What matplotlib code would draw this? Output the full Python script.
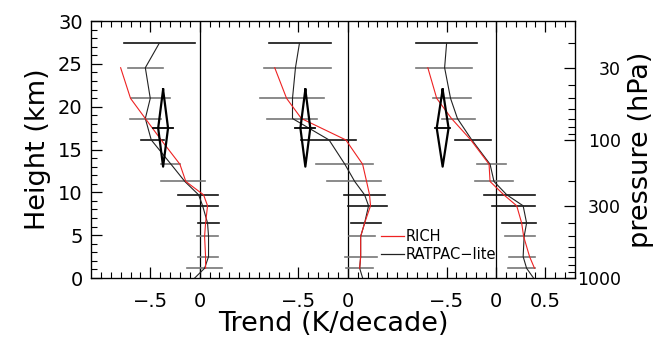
import matplotlib
matplotlib.use("Agg")
import matplotlib.pyplot as plt
import numpy as np
from matplotlib.lines import Line2D

plt.rcParams["font.family"] = ["DejaVu Sans"]

# pressure levels (hPa), bottom -> top
PRESSURE = [1000, 850, 700, 500, 400, 300, 250, 200, 150, 100, 70, 50, 30, 20]
SCALE_HEIGHT = 7.0
PANEL_OFFSETS = [0.0, 1.5, 3.0]

# RATPAC-lite trend profiles (K/decade), 1000 -> 20 hPa
RATPAC = [
    [-0.05, 0.05, 0.09, 0.09, 0.08, 0.03, -0.01, -0.15, -0.29, -0.49, -0.55, -0.50, -0.55, -0.41],
    [0.15, 0.12, 0.13, 0.13, 0.17, 0.21, 0.17, 0.07, -0.03, -0.19, -0.56, -0.56, -0.53, -0.49],
    [0.38, 0.31, 0.275, 0.285, 0.31, 0.275, 0.11, -0.02, -0.06, -0.245, -0.39, -0.46, -0.52, -0.50],
]
# RICH trend profiles, 850 -> 30 hPa (nan where missing)
RICH = [
    [np.nan, 0.06, 0.06, 0.05, 0.06, 0.08, 0.04, -0.14, -0.20, -0.39, -0.55, -0.70, -0.80, np.nan],
    [np.nan, 0.12, 0.13, 0.13, 0.17, 0.23, 0.22, 0.19, 0.15, -0.02, -0.47, -0.62, -0.74, np.nan],
    [np.nan, 0.39, 0.34, 0.28, 0.26, 0.21, 0.08, -0.06, -0.07, -0.255, -0.45, -0.60, -0.69, np.nan],
]
# uncertainty ranges, 850 -> 20 hPa
ERR_LO = [
    [-0.13, -0.02, -0.03, -0.02, -0.13, -0.22, -0.39, -0.39, -0.59, -0.71, -0.70, -0.73, -0.77],
    [-0.02, -0.03, 0.01, 0.03, 0.00, -0.04, -0.21, -0.32, -0.47, -0.82, -0.89, -0.85, -0.80],
    [0.12, 0.13, 0.09, 0.06, -0.04, -0.12, -0.21, -0.19, -0.41, -0.55, -0.64, -0.81, -0.81],
]
ERR_HI = [
    [0.23, 0.19, 0.19, 0.20, 0.19, 0.19, 0.05, -0.20, -0.36, -0.39, -0.30, -0.37, -0.05],
    [0.25, 0.30, 0.28, 0.34, 0.40, 0.38, 0.34, 0.26, 0.08, -0.31, -0.24, -0.17, -0.17],
    [0.40, 0.40, 0.40, 0.41, 0.40, 0.40, 0.17, 0.10, -0.05, -0.21, -0.25, -0.24, -0.19],
]
ERR_DARK = [False, False, False, True, True, True, False, False, True, False, False, False, True]

# diamond glyph: centre trend, half width, crossbar half width
DIAMOND_X = [-0.37, -0.43, -0.54]
DIAMOND_HW = [0.05, 0.05, 0.06]
DIAMOND_BAR = [0.10, 0.10, 0.075]
DIAMOND_Z = (13.0, 17.5, 22.0)

XTICK_POS = [-0.5, 0.0, 1.0, 1.5, 2.5, 3.0, 3.5]
XTICK_LAB = ["\u2212.5", "0", "\u2212.5", "0", "\u2212.5", "0", "0.5"]
P_MAJOR = [30, 100, 300, 1000]
P_MINOR = [20, 40, 50, 60, 70, 80, 90, 200, 400, 500, 600, 700, 800, 900]


def height(p):
    return SCALE_HEIGHT * np.log(1000.0 / np.asarray(p, dtype=float))


z = height(PRESSURE)

fig = plt.figure(figsize=(6.54, 3.45), dpi=100)
ax = fig.add_axes([91 / 654, 1 - 278 / 345, 484 / 654, 257 / 345])

for k, off in enumerate(PANEL_OFFSETS):
    ax.axvline(off, color="black", lw=0.9, zorder=1)
    for lo, hi, zz, dark in zip(ERR_LO[k], ERR_HI[k], z[1:], ERR_DARK):
        ax.plot([lo + off, hi + off], [zz, zz], color="#111111" if dark else "#777777",
                lw=1.2, zorder=2)
    ax.plot(np.array(RATPAC[k]) + off, z, color="#222222", lw=0.8, zorder=3)
    ax.plot(np.array(RICH[k]) + off, z, color="#ee2222", lw=0.8, zorder=4)
    cx, hw, bar = DIAMOND_X[k] + off, DIAMOND_HW[k], DIAMOND_BAR[k]
    z0, zc, z1 = DIAMOND_Z
    ax.plot([cx, cx + hw, cx, cx - hw, cx], [z1, zc, z0, zc, z1], color="black", lw=1.6, zorder=5)
    ax.plot([cx - bar, cx + bar], [zc, zc], color="black", lw=1.3, zorder=5)

ax.set_xlim(-1.1, 3.8)
ax.set_ylim(0, 30)
ax.set_xticks(XTICK_POS)
ax.set_xticklabels(XTICK_LAB, fontsize=14)
ax.set_xticks(np.round(np.arange(-1.0, 3.81, 0.1), 2), minor=True)
ax.set_yticks(np.arange(0, 31, 5))
ax.set_yticks(np.arange(0, 31, 1), minor=True)
ax.tick_params(axis="both", which="both", direction="in", top=True, right=False)
ax.tick_params(axis="both", which="major", length=8, width=0.9, labelsize=14)
ax.tick_params(axis="both", which="minor", length=4, width=0.8)
ax.tick_params(axis="x", which="major", pad=10)
ax.tick_params(axis="y", which="major", pad=6)
ax.set_xlabel("Trend (K/decade)", fontsize=19.5, labelpad=0)
ax.set_ylabel("Height (km)", fontsize=19.5, labelpad=5)
for s in ax.spines.values():
    s.set_linewidth(0.9)

ax2 = ax.twinx()
ax2.set_ylim(0, 30)
ax2.set_yticks(height(P_MAJOR))
ax2.set_yticklabels([str(p) for p in P_MAJOR], fontsize=12.5, ha="right")
ax2.set_yticks(height(P_MINOR), minor=True)
ax2.tick_params(axis="y", which="both", direction="in", pad=33)
ax2.tick_params(axis="y", which="major", length=8, width=0.9)
ax2.tick_params(axis="y", which="minor", length=5, width=0.8)
ax2.set_ylabel("pressure (hPa)", fontsize=19.5, labelpad=5)

handles = [Line2D([], [], color="#ee2222", lw=0.9), Line2D([], [], color="#222222", lw=0.9)]
ax.legend(handles, ["RICH", "RATPAC\u2212lite"], loc="upper left",
          bbox_to_anchor=(0.599, 0.19), frameon=False, fontsize=10.5,
          handlelength=1.6, handletextpad=0.1, labelspacing=0.2, borderpad=0,
          borderaxespad=0)

fig.savefig("out.png", dpi=100)
